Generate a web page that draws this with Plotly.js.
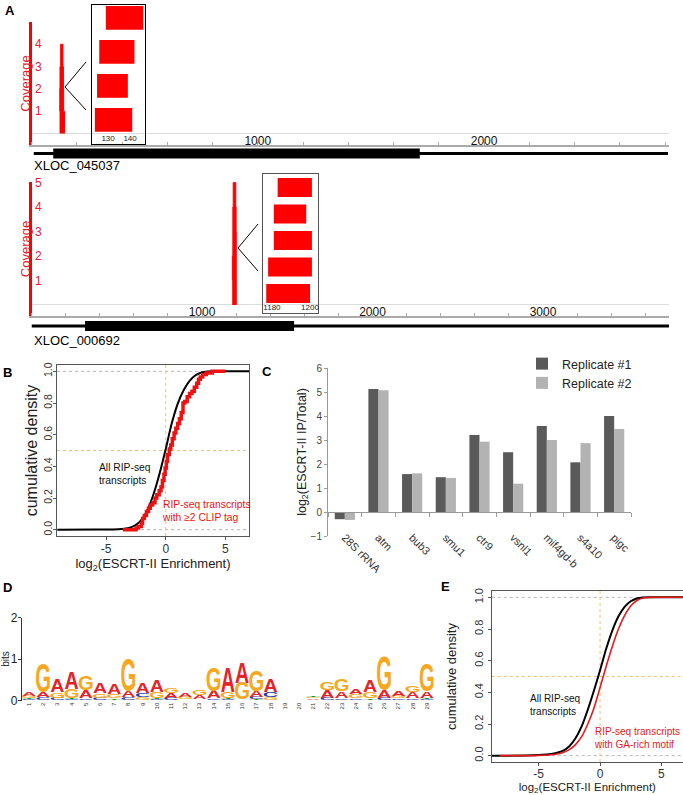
<!DOCTYPE html>
<html><head><meta charset="utf-8">
<script src="https://cdn.plot.ly/plotly-3.0.1.min.js"></script>
<style>html,body{margin:0;padding:0;background:#fff}#chart{width:683px;height:795px}</style>
</head><body><div id="chart"></div>
<script>
// ================= DATA =================
// Panel A (top): XLOC_045037
const geneTopName = 'XLOC_045037';
const geneTopSpan = [10, 2813];
const geneTopCds = [96, 1716];
const readsTopStart = [129, 126, 125, 124];
const readsTopEnd = [146, 142, 139, 141];
const covTicksTop = [1, 2, 3, 4];
const rulerTicksTop = [1000, 2000];
const insetTicksTop = [130, 140];

// Panel A (bottom): XLOC_000692
const geneBotName = 'XLOC_000692';
const geneBotSpan = [0, 3739];
const geneBotCds = [314, 1540];
const readsBotStart = [1183, 1181, 1181, 1178, 1177];
const readsBotEnd = [1201, 1198, 1201, 1201, 1200];
const covTicksBot = [1, 2, 3, 4, 5];
const rulerTicksBot = [1000, 2000, 3000];
const insetTicksBot = [1180, 1200];

// Panel B: cumulative density
const bAllX = [-9.1, -6, -5, -4, -3.5, -3, -2.5, -2, -1.5, -1, -0.5, 0, 0.5, 1, 1.5, 2, 2.5, 3, 3.5, 4, 7];
const bAllY = [0, 0.0005, 0.001, 0.003, 0.006, 0.013, 0.03, 0.065, 0.13, 0.23, 0.36, 0.51, 0.67, 0.795, 0.88, 0.94, 0.975, 0.993, 0.999, 1, 1];
const bClipX = [-3.6, -2.5, -2.3, -2.05, -1.95, -1.8, -1.62, -1.45, -1.3, -1.1, -0.9, -0.75, -0.55, -0.4, -0.28, -0.15, -0.05, 0.05, 0.15, 0.3, 0.42, 0.55, 0.7, 0.85, 1.0, 1.15, 1.3, 1.45, 1.6, 1.8, 2.0, 2.2, 2.4, 2.6, 2.75, 2.9, 3.1, 3.4, 3.9, 5.0];
const bClipY = [0, 0.01, 0.02, 0.04, 0.07, 0.09, 0.115, 0.135, 0.155, 0.17, 0.2, 0.22, 0.245, 0.27, 0.31, 0.35, 0.39, 0.43, 0.475, 0.51, 0.535, 0.575, 0.61, 0.64, 0.67, 0.7, 0.74, 0.8, 0.81, 0.84, 0.86, 0.875, 0.9, 0.925, 0.95, 0.965, 0.98, 0.99, 1.0, 1.0];

// Panel C: qRT-PCR
const cCats = ['28S rRNA', 'atm', 'bub3', 'smu1', 'ctr9', 'vsnl1', 'mif4gd-b', 's4a10', 'pigc'];
const cRep1 = [-0.30, 5.13, 1.58, 1.45, 3.21, 2.49, 3.58, 2.07, 4.00];
const cRep2 = [-0.33, 5.07, 1.61, 1.42, 2.93, 1.18, 3.00, 2.87, 3.46];

// Panel D: sequence logo (bits per base)
const logoPos = [1,2,3,4,5,6,7,8,9,10,11,12,13,14,15,16,17,18,19,20,21,22,23,24,25,26,27,28,29];
const logoA = [0.08,0.13,0.33,0.42,0.19,0.25,0.26,0.16,0.26,0.28,0.12,0.10,0.10,0.19,0.62,0.50,0.16,0.33,0.01,0.00,0.03,0.18,0.17,0.12,0.28,0.18,0.12,0.15,0.16];
const logoC = [0.03,0.06,0.05,0.03,0.04,0.05,0.02,0.06,0.10,0.03,0.05,0.02,0.02,0.03,0.03,0.02,0.05,0.12,0.01,0.00,0.02,0.05,0.03,0.04,0.02,0.05,0.03,0.03,0.03];
const logoG = [0.06,0.71,0.13,0.21,0.34,0.10,0.10,0.80,0.07,0.15,0.13,0.05,0.11,0.56,0.15,0.40,0.50,0.06,0.01,0.00,0.03,0.19,0.30,0.10,0.15,0.82,0.07,0.16,0.67];
const logoT = [0.03,0.02,0.02,0.03,0.02,0.02,0.03,0.02,0.02,0.03,0.02,0.02,0.02,0.02,0.03,0.01,0.03,0.02,0.01,0.00,0.03,0.02,0.02,0.02,0.04,0.02,0.02,0.02,0.03];

// Panel E: cumulative density
const eAllX = [-8.8, -6, -5, -4, -3.5, -3, -2.5, -2, -1.5, -1, -0.5, 0, 0.5, 1, 1.5, 2, 2.5, 3, 3.5, 4, 7];
const eAllY = [0, 0.001, 0.004, 0.01, 0.018, 0.032, 0.06, 0.11, 0.185, 0.29, 0.41, 0.54, 0.675, 0.79, 0.88, 0.94, 0.975, 0.993, 0.999, 1, 1];
const eGaX = [-8.2, -6, -5, -4, -3.5, -3, -2.5, -2, -1.5, -1, -0.5, 0, 0.5, 1, 1.5, 2, 2.5, 3, 3.5, 4, 7];
const eGaY = [0, 0.0005, 0.002, 0.006, 0.011, 0.02, 0.038, 0.07, 0.12, 0.2, 0.3, 0.43, 0.565, 0.69, 0.8, 0.885, 0.945, 0.98, 0.996, 1, 1];

// ================= HELPERS =================
const W = 683, H = 795;
const hx = (a, b) => [a / W, Math.min(1, b / W)];
const vy = (top, bot) => [1 - bot / H, 1 - top / H];
const px = x => x / W;
const py = y => 1 - y / H;
const FONT = 'Liberation Sans, Arial, Helvetica, sans-serif';
const RED = '#ff0000';
const TXTRED = '#e8202a';

function coverage(starts, ends) {
  const lo = Math.min(...starts), hi = Math.max(...ends);
  const xs = [], ys = [];
  for (let p = lo; p <= hi; p++) {
    xs.push(p);
    ys.push(starts.filter((s, i) => s <= p && p < ends[i]).length);
  }
  return { xs, ys };
}
const covTop = coverage(readsTopStart, readsTopEnd);
const covBot = coverage(readsBotStart, readsBotEnd);

// logo letters stacked smallest at bottom
const LOGO_COLORS = { A: '#e3242b', C: '#2b3c9e', G: '#f6a823', T: '#1b9a32' };
const logoLetters = [];
logoPos.forEach((p, i) => {
  const col = [['A', logoA[i]], ['C', logoC[i]], ['G', logoG[i]], ['T', logoT[i]]].sort((a, b) => a[1] - b[1]);
  let base = 0;
  col.forEach(([ch, h]) => { if (h >= 0.025) logoLetters.push({ ch, pos: p, y0: base, h }); base += h; });
});

// ================= TRACES =================
const traces = [];
const noLeg = { showlegend: false, hoverinfo: 'skip' };
// A top
traces.push(Object.assign({ type: 'scatter', mode: 'lines', x: covTop.xs, y: covTop.ys, xaxis: 'x', yaxis: 'y',
  line: { shape: 'hv', color: RED, width: 1 }, fill: 'tozeroy', fillcolor: RED }, noLeg));
traces.push(Object.assign({ type: 'scatter', mode: 'lines', x: geneTopSpan, y: [0, 0], xaxis: 'x', yaxis: 'y2', line: { color: '#000', width: 3 } }, noLeg));
traces.push(Object.assign({ type: 'scatter', mode: 'lines', x: geneTopCds, y: [0, 0], xaxis: 'x', yaxis: 'y2', line: { color: '#000', width: 10 } }, noLeg));
traces.push(Object.assign({ type: 'bar', orientation: 'h', y: readsTopStart.map((s, i) => i + 1), x: readsTopEnd.map((e, i) => e - readsTopStart[i]),
  base: readsTopStart, width: 0.7, xaxis: 'x2', yaxis: 'y3', marker: { color: RED, line: { width: 0 } } }, noLeg));
// A bottom
traces.push(Object.assign({ type: 'scatter', mode: 'lines', x: covBot.xs, y: covBot.ys, xaxis: 'x3', yaxis: 'y4',
  line: { shape: 'hv', color: RED, width: 1 }, fill: 'tozeroy', fillcolor: RED }, noLeg));
traces.push(Object.assign({ type: 'scatter', mode: 'lines', x: geneBotSpan, y: [0, 0], xaxis: 'x3', yaxis: 'y5', line: { color: '#000', width: 3 } }, noLeg));
traces.push(Object.assign({ type: 'scatter', mode: 'lines', x: geneBotCds, y: [0, 0], xaxis: 'x3', yaxis: 'y5', line: { color: '#000', width: 10 } }, noLeg));
traces.push(Object.assign({ type: 'bar', orientation: 'h', y: readsBotStart.map((s, i) => i + 1), x: readsBotEnd.map((e, i) => e - readsBotStart[i]),
  base: readsBotStart, width: 0.72, xaxis: 'x4', yaxis: 'y6', marker: { color: RED, line: { width: 0 } } }, noLeg));
// B
traces.push(Object.assign({ type: 'scatter', mode: 'lines', x: bAllX, y: bAllY, xaxis: 'x5', yaxis: 'y7', line: { color: '#000', width: 2, shape: 'spline', smoothing: 0.6 } }, noLeg));
traces.push(Object.assign({ type: 'scatter', mode: 'lines', x: bClipX, y: bClipY, xaxis: 'x5', yaxis: 'y7', line: { color: '#ee1111', width: 3.5, shape: 'hv' } }, noLeg));
// C
traces.push({ type: 'bar', name: 'Replicate #1', x: cCats, y: cRep1, xaxis: 'x6', yaxis: 'y8', marker: { color: '#5a5a5a' }, hoverinfo: 'skip' });
traces.push({ type: 'bar', name: 'Replicate #2', x: cCats, y: cRep2, xaxis: 'x6', yaxis: 'y8', marker: { color: '#b3b3b3' }, hoverinfo: 'skip' });
traces.push(Object.assign({ type: 'scatter', mode: 'markers', x: cCats, y: cCats.map(() => 0), xaxis: 'x7', yaxis: 'y8', marker: { opacity: 0, size: 1 } }, noLeg));
// D
traces.push(Object.assign({ type: 'scatter', mode: 'text', x: logoLetters.map(l => l.pos), y: logoLetters.map(l => l.y0),
  text: logoLetters.map(l => l.ch), textposition: 'middle center', cliponaxis: false,
  textfont: { family: FONT, size: 40, weight: 'bold', color: logoLetters.map(l => LOGO_COLORS[l.ch]) },
  xaxis: 'x8', yaxis: 'y9' }, noLeg));
// E
traces.push(Object.assign({ type: 'scatter', mode: 'lines', x: eAllX, y: eAllY, xaxis: 'x9', yaxis: 'y10', line: { color: '#000', width: 2, shape: 'spline', smoothing: 0.6 } }, noLeg));
traces.push(Object.assign({ type: 'scatter', mode: 'lines', x: eGaX, y: eGaY, xaxis: 'x9', yaxis: 'y10', line: { color: '#e41a1c', width: 1.6, shape: 'spline', smoothing: 0.6 } }, noLeg));

// ================= LAYOUT =================
const base = { showgrid: false, zeroline: false, fixedrange: true };
function ruler(dom, range, anchor, ticks) {
  return Object.assign({}, base, { domain: dom, range, anchor, showline: true, linecolor: '#aaaaaa', linewidth: 2,
    tickmode: 'array', tickvals: ticks, ticks: '', ticklabelstandoff: -3,
    ticklabelposition: 'inside', ticklabeloverflow: 'allow', tickfont: { size: 12, color: '#111' },
    minor: { tickmode: 'linear', tick0: 0, dtick: 200, ticks: 'inside', ticklen: 3, tickcolor: '#aaaaaa', showgrid: false } });
}
function covAxis(dom, range, anchor, ticks) {
  return Object.assign({}, base, { domain: dom, range, anchor, showline: true, linecolor: RED, linewidth: 3,
    ticks: '', tickmode: 'array', tickvals: ticks, ticklabelposition: 'inside', ticklabeloverflow: 'allow', ticklabelstandoff: 3,
    tickfont: { size: 12, color: TXTRED }, automargin: true, title: { text: 'Coverage', font: { size: 13, color: TXTRED }, standoff: 2 },
    zeroline: true, zerolinecolor: '#dddddd', zerolinewidth: 1 });
}
function insetX(dom, range, anchor, ticks, col) {
  return Object.assign({}, base, { domain: dom, range, anchor, showline: true, mirror: true, linecolor: col, linewidth: 1,
    tickmode: 'array', tickvals: ticks, ticks: '', ticklabelposition: 'inside', ticklabeloverflow: 'allow', tickfont: { size: 8, color: '#222' } });
}
function insetY(dom, range, anchor, col) {
  return Object.assign({}, base, { domain: dom, range, anchor, showline: true, mirror: true, linecolor: col, linewidth: 1, showticklabels: false, ticks: '' });
}
function cdfX(dom, range, anchor, tsize, titleSize, auto, lstand) {
  const ax = Object.assign({}, base, { domain: dom, range, anchor, showline: true, mirror: true, linecolor: '#555', linewidth: 1,
    ticks: 'outside', ticklen: 3, tickcolor: '#555', tickmode: 'array', tickvals: [-5, 0, 5], ticktext: ['-5', '0', '5'], ticklabelstandoff: lstand,
    tickfont: { size: tsize, color: '#333' }, title: { text: 'log<sub>2</sub>(ESCRT-II Enrichment)', font: { size: titleSize, color: '#222' } } });
  if (auto) { ax.automargin = true; ax.title.standoff = 0; }
  return ax;
}
function cdfY(dom, anchor, tsize, titleSize, auto, lstand) {
  const ax = Object.assign({}, base, { domain: dom, range: [-0.04, 1.04], anchor, showline: true, mirror: true, linecolor: '#555', linewidth: 1,
    ticks: 'outside', ticklen: 3, tickcolor: '#555', tickmode: 'array', tickvals: [0, 0.2, 0.4, 0.6, 0.8, 1.0], ticklabelstandoff: lstand,
    ticktext: ['0.0', '0.2', '0.4', '0.6', '0.8', '1.0'], tickangle: -90, tickfont: { size: tsize, color: '#333' },
    title: { text: 'cumulative density', font: { size: titleSize, color: '#222' } } });
  if (auto) { ax.automargin = true; ax.title.standoff = 0; }
  return ax;
}

const zeroPaperC = 1 - 512 / H;

const layout = {
  width: W, height: H, margin: { l: 0, r: 0, t: 0, b: 0, autoexpand: false }, paper_bgcolor: '#fff', plot_bgcolor: 'rgba(0,0,0,0)',
  font: { family: FONT, color: '#222' }, hovermode: false, barmode: 'group', bargap: 0.4, bargroupgap: 0,
  showlegend: true,
  legend: { x: px(522), y: py(349), xanchor: 'left', yanchor: 'top', font: { size: 12.5, color: '#222' }, bgcolor: 'rgba(0,0,0,0)', itemwidth: 30, tracegroupgap: 0 },
  // A top
  xaxis: ruler(hx(31.5, 668.5), [0, 2815], 'y', rulerTicksTop),
  yaxis: covAxis(vy(22, 145), [-0.52, 5.0], 'x', covTicksTop),
  yaxis2: Object.assign({}, base, { domain: vy(146, 161), range: [-1, 1], anchor: 'x', visible: false }),
  xaxis2: insetX(hx(92, 145), [122.7, 146.8], 'y3', insetTicksTop, '#000'),
  yaxis3: insetY(vy(5, 144), [4.71, 0.62], 'x2', '#000'),
  // A bottom
  xaxis3: ruler(hx(31.5, 669.2), [0, 3740], 'y4', rulerTicksBot),
  yaxis4: covAxis(vy(182, 316), [-0.45, 5.02], 'x3', covTicksBot),
  yaxis5: Object.assign({}, base, { domain: vy(318.5, 333.5), range: [-1, 1], anchor: 'x3', visible: false }),
  xaxis4: insetX(hx(263, 318), [1175.3, 1204.2], 'y6', insetTicksBot, '#555'),
  yaxis6: insetY(vy(174, 313), [5.74, 0.49], 'x4', '#555'),
  // B
  xaxis5: cdfX(hx(57, 249), [-9.13, 6.99], 'y7', 12, 13, true, -1),
  yaxis7: cdfY(vy(365, 536), 'x5', 10.5, 16, true, -3),
  // C
  xaxis6: Object.assign({}, base, { domain: hx(328, 631), range: [-0.5, 8.5], anchor: 'free', position: py(528), type: 'category', categoryarray: cCats,
    showline: false, ticks: '', tickangle: 45, tickfont: { size: 11, color: '#333' } }),
  xaxis7: Object.assign({}, base, { domain: hx(328, 631), range: [-0.5, 8.5], overlaying: 'x6', anchor: 'free', position: zeroPaperC,
    type: 'category', categoryarray: cCats, showline: true, linecolor: '#9a9a9a', linewidth: 1, ticks: 'outside', tickson: 'boundaries',
    ticklen: 4, tickcolor: '#9a9a9a', showticklabels: false }),
  yaxis8: Object.assign({}, base, { domain: vy(368, 536), range: [-1, 6], anchor: 'x6', dtick: 1, tick0: 0, showline: true, linecolor: '#9a9a9a',
    ticks: 'outside', ticklen: 3, tickcolor: '#9a9a9a', tickfont: { size: 10, color: '#444' }, automargin: true,
    title: { text: 'log<sub>2</sub>(ESCRT-II IP/Total)', font: { size: 12.5, color: '#222' }, standoff: 1 } }),
  // D
  xaxis8: Object.assign({}, base, { domain: hx(21.9, 439.7), range: [0.5, 29.9], anchor: 'y9', tickmode: 'array', tickvals: logoPos,
    ticktext: logoPos.map(String), tickangle: -90, ticks: '', showline: false, tickfont: { size: 6, color: '#333' } }),
  yaxis9: Object.assign({}, base, { domain: vy(617.5, 700.5), range: [0, 2], anchor: 'x8', tickmode: 'array', tickvals: [0, 1, 2],
    showline: true, linecolor: '#333', ticks: 'outside', ticklen: 3, tickcolor: '#333', tickfont: { size: 12, color: '#222' }, ticklabelstandoff: -2,
    automargin: true, title: { text: 'bits', font: { size: 10, color: '#222' }, standoff: 1 } }),
  // E
  xaxis9: cdfX([491.7 / W, 1], [-8.83, 6.76], 'y10', 12, 11.5, false, -2),
  yaxis10: cdfY(vy(591, 762), 'x9', 11, 13, false, 0),
  shapes: [
    // connectors
    { type: 'path', xref: 'paper', yref: 'paper', path: `M ${px(86)} ${py(62)} L ${px(65)} ${py(87)} L ${px(86)} ${py(110)}`, line: { color: '#000', width: 1 } },
    { type: 'path', xref: 'paper', yref: 'paper', path: `M ${px(258)} ${py(224)} L ${px(238)} ${py(248)} L ${px(258)} ${py(271)}`, line: { color: '#000', width: 1 } },
    // B reference lines
    { type: 'line', layer: 'below', xref: 'x5 domain', yref: 'y7', x0: 0, x1: 1, y0: 1, y1: 1, line: { color: '#b5b5b5', width: 1, dash: 'dot' } },
    { type: 'line', layer: 'below', xref: 'x5 domain', yref: 'y7', x0: 0, x1: 1, y0: 0, y1: 0, line: { color: '#b5b5b5', width: 1, dash: 'dot' } },
    { type: 'line', layer: 'below', xref: 'x5 domain', yref: 'y7', x0: 0, x1: 1, y0: 0.5, y1: 0.5, line: { color: '#f5c070', width: 1, dash: 'dot' } },
    { type: 'line', layer: 'below', xref: 'x5', yref: 'y7 domain', x0: 0, x1: 0, y0: 0, y1: 1, line: { color: '#f5c070', width: 1, dash: 'dot' } },
    // E reference lines
    { type: 'line', layer: 'below', xref: 'x9 domain', yref: 'y10', x0: 0, x1: 1, y0: 1, y1: 1, line: { color: '#b5b5b5', width: 1, dash: 'dot' } },
    { type: 'line', layer: 'below', xref: 'x9 domain', yref: 'y10', x0: 0, x1: 1, y0: 0, y1: 0, line: { color: '#b5b5b5', width: 1, dash: 'dot' } },
    { type: 'line', layer: 'below', xref: 'x9 domain', yref: 'y10', x0: 0, x1: 1, y0: 0.5, y1: 0.5, line: { color: '#f5c070', width: 1, dash: 'dot' } },
    { type: 'line', layer: 'below', xref: 'x9', yref: 'y10 domain', x0: 0, x1: 0, y0: 0, y1: 1, line: { color: '#f5c070', width: 1, dash: 'dot' } }
  ],
  annotations: [
    { text: '<b>A</b>', xref: 'paper', yref: 'paper', x: px(3), y: py(11), xanchor: 'left', yanchor: 'middle', showarrow: false, font: { size: 13, color: '#000' } },
    { text: '<b>B</b>', xref: 'paper', yref: 'paper', x: px(1), y: py(372), xanchor: 'left', yanchor: 'middle', showarrow: false, font: { size: 13, color: '#000' } },
    { text: '<b>C</b>', xref: 'paper', yref: 'paper', x: px(260), y: py(371), xanchor: 'left', yanchor: 'middle', showarrow: false, font: { size: 13, color: '#000' } },
    { text: '<b>D</b>', xref: 'paper', yref: 'paper', x: px(1), y: py(587), xanchor: 'left', yanchor: 'middle', showarrow: false, font: { size: 13, color: '#000' } },
    { text: '<b>E</b>', xref: 'paper', yref: 'paper', x: px(439), y: py(586), xanchor: 'left', yanchor: 'middle', showarrow: false, font: { size: 13, color: '#000' } },
    { text: geneTopName, xref: 'paper', yref: 'paper', x: px(32), y: py(166), xanchor: 'left', yanchor: 'middle', showarrow: false, font: { size: 13, color: '#000' } },
    { text: geneBotName, xref: 'paper', yref: 'paper', x: px(32), y: py(340), xanchor: 'left', yanchor: 'middle', showarrow: false, font: { size: 13, color: '#000' } },
    { text: 'All RIP-seq<br>transcripts', xref: 'x5', yref: 'y7', x: -5.8, y: 0.354, xanchor: 'left', yanchor: 'middle', align: 'left', showarrow: false, font: { size: 10.3, color: '#111' } },
    { text: 'RIP-seq transcripts<br>with ≥2 CLIP tag', xref: 'x5', yref: 'y7', x: -0.5, y: 0.117, xanchor: 'left', yanchor: 'middle', align: 'left', showarrow: false, font: { size: 10.3, color: '#ee1111' } },
    { text: 'All RIP-seq<br>transcripts', xref: 'x9', yref: 'y10', x: -5.87, y: 0.32, xanchor: 'left', yanchor: 'middle', align: 'left', showarrow: false, font: { size: 10, color: '#111' } },
    { text: 'RIP-seq transcripts<br>with GA-rich motif', xref: 'x9', yref: 'y10', x: -0.66, y: 0.112, xanchor: 'left', yanchor: 'middle', align: 'left', showarrow: false, font: { size: 10, color: '#e41a1c' } }
  ]
};

const gd = document.getElementById('chart');
const INK = { A: 0.98, C: 0.9, G: 0.88, T: 0.95 };
function fixLetters() {
  const fl = gd._fullLayout;
  if (!fl || !fl.xaxis8) return;
  const xa = fl.xaxis8, ya = fl.yaxis9;
  const colPx = Math.abs(xa._m);
  const groups = gd.querySelectorAll('.textpoint');
  groups.forEach((g, i) => {
    const L = logoLetters[i];
    if (!L) return;
    g.removeAttribute('transform');
    const t = g.querySelector('text');
    if (!t) return;
    t.removeAttribute('transform');
    const x = parseFloat(t.getAttribute('x')), y = parseFloat(t.getAttribute('y'));
    const adv = t.getComputedTextLength() || 30;
    const hPx = Math.abs(ya.c2p(L.y0 + L.h) - ya.c2p(L.y0));
    const sx = colPx * 0.98 / (adv * INK[L.ch]);
    const sy = hPx / (0.716 * 40);
    t.setAttribute('transform', `translate(${x},${y}) scale(${sx},${sy}) translate(${-x},${-y})`);
  });
}
Plotly.newPlot(gd, traces, layout, { staticPlot: true, displayModeBar: false }).then(() => {
  fixLetters();
  gd.on && gd.on('plotly_afterplot', fixLetters);
});
</script>
</body></html>
